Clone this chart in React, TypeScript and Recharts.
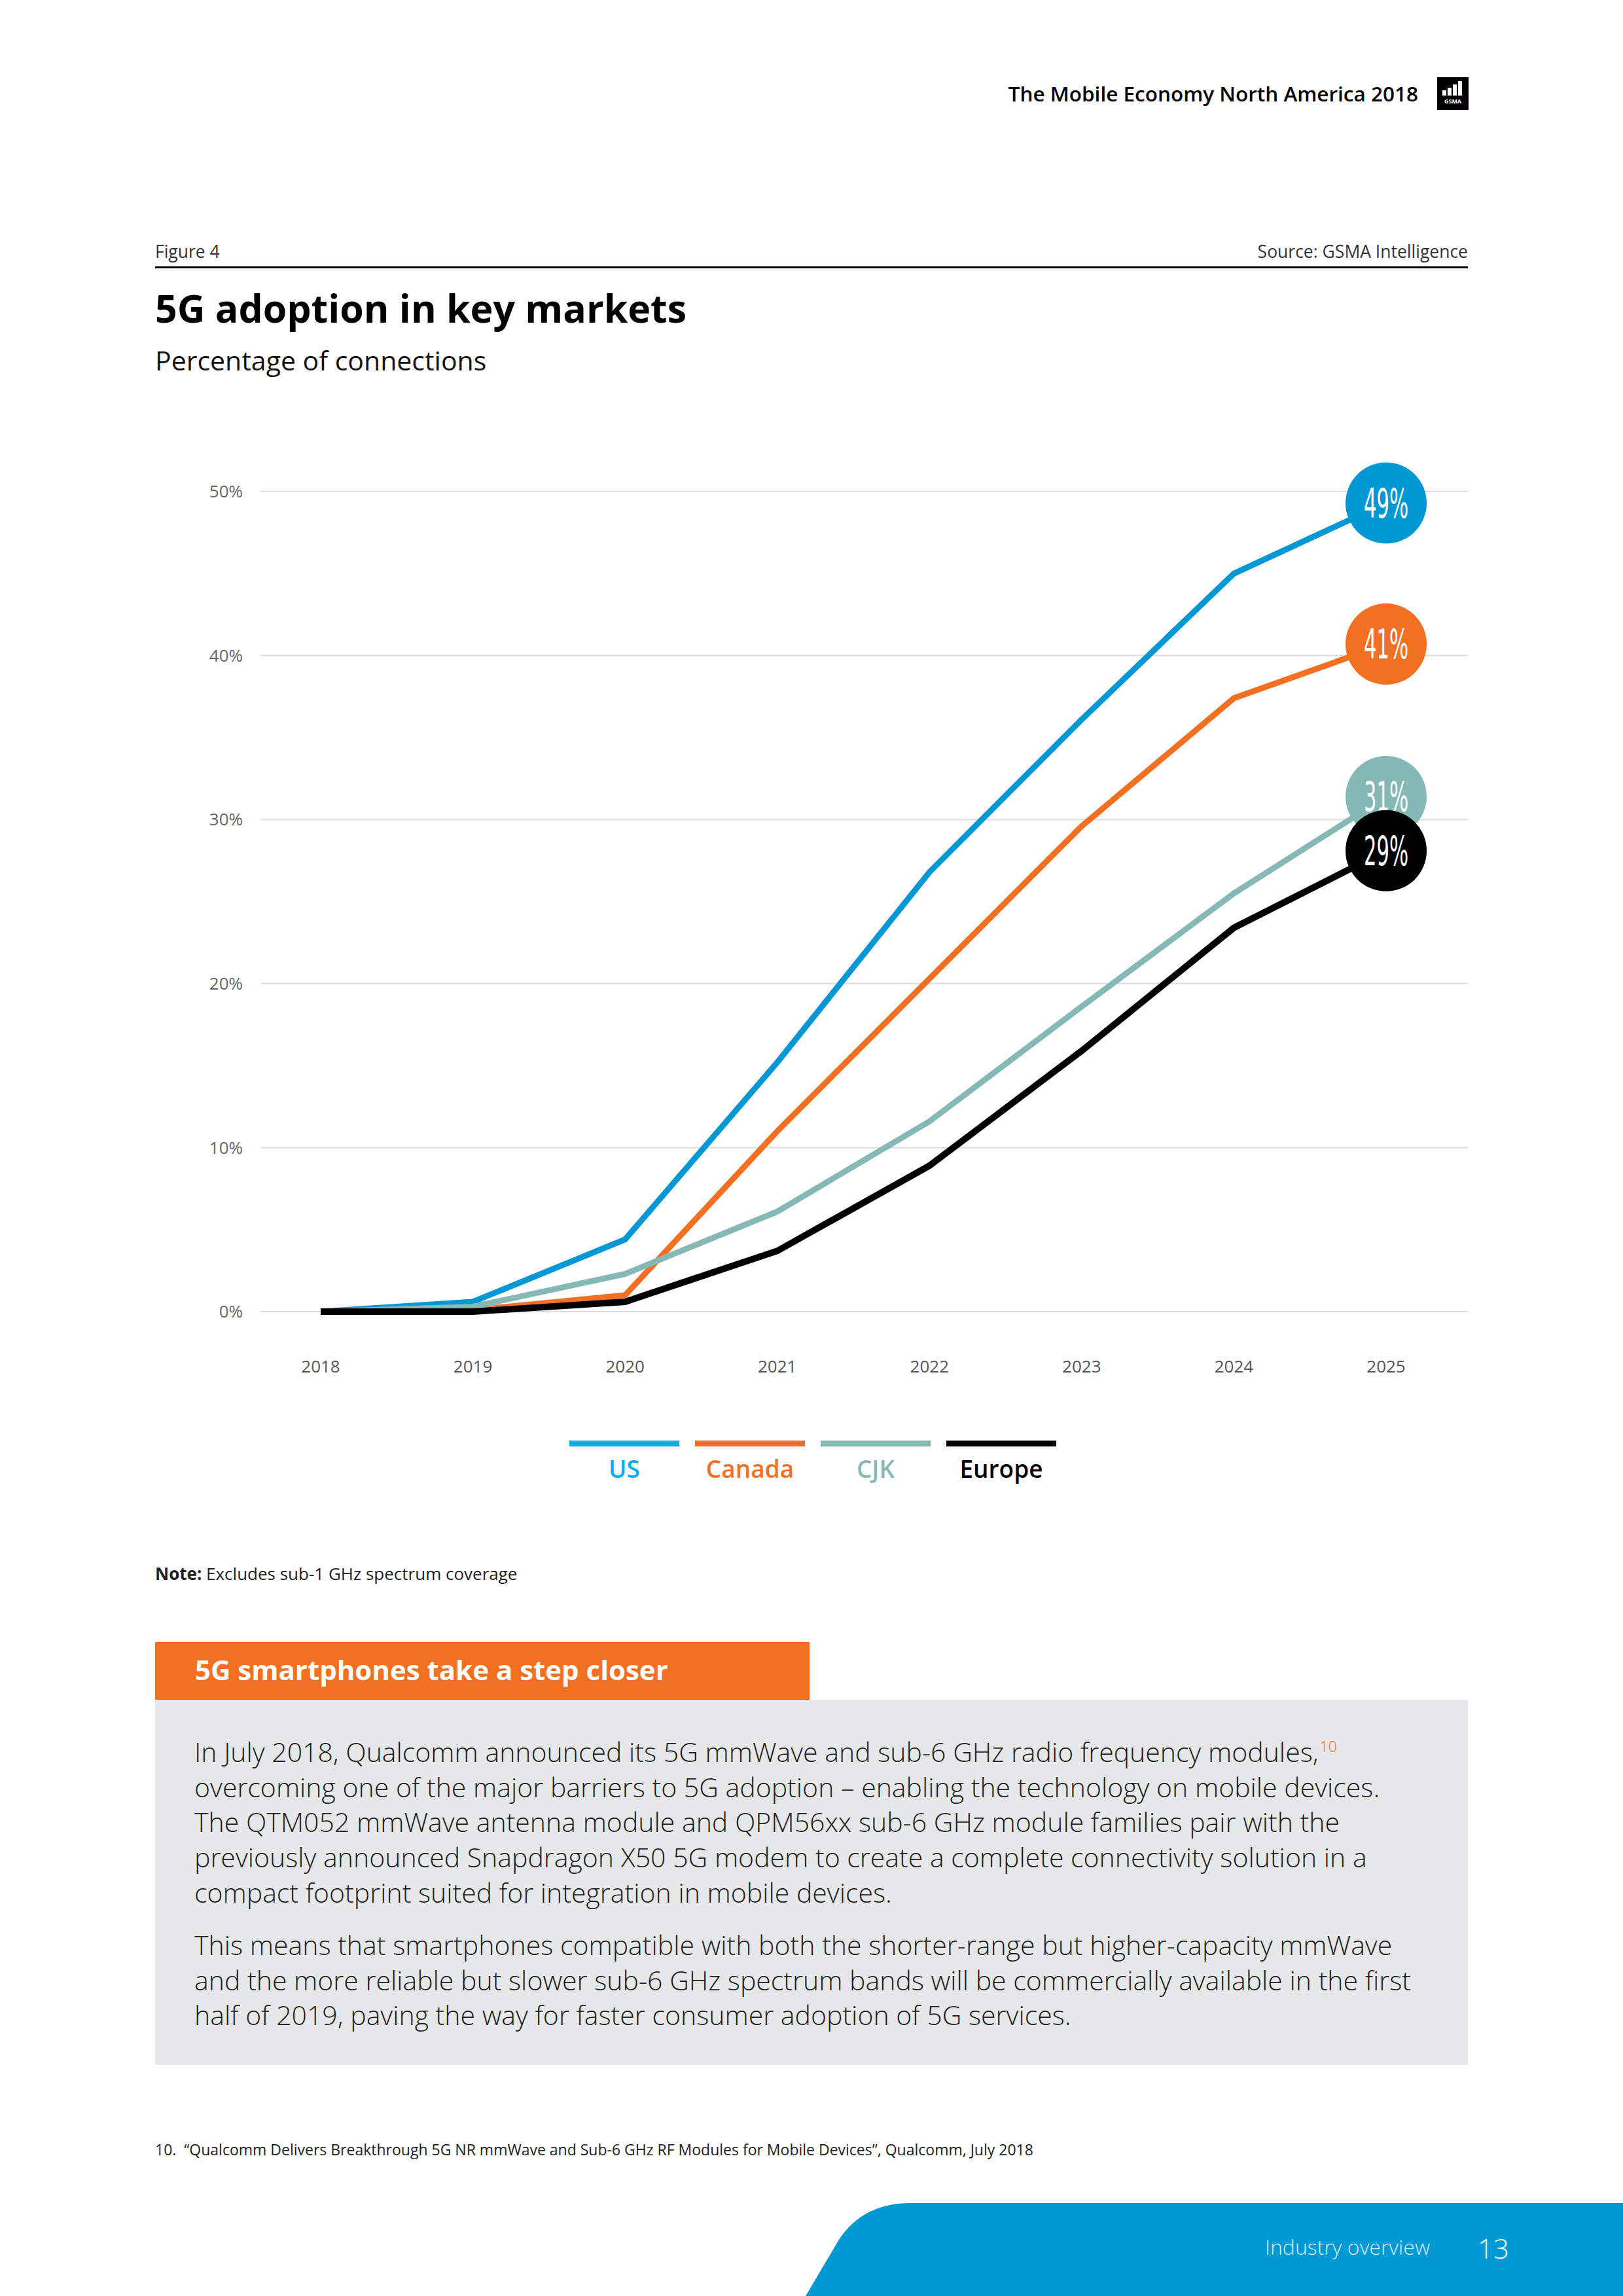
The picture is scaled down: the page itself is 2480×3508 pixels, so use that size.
import React from 'react';
import { LineChart, Line, XAxis, YAxis, CartesianGrid } from 'recharts';

// Years on the x axis
const years = ['2018', '2019', '2020', '2021', '2022', '2023', '2024', '2025'];

// Percentage of connections
const usValues = [0, 0.6, 4.4, 15.2, 26.8, 36.1, 45.0, 49.3];
const canadaValues = [0, 0.1, 1.0, 11.0, 20.3, 29.6, 37.4, 40.7];
const cjkValues = [0, 0.3, 2.3, 6.1, 11.6, 18.6, 25.5, 31.4];
const europeValues = [0, 0, 0.6, 3.7, 8.9, 15.9, 23.4, 28.1];

// Labels in the end bubbles
const endLabels = ['49%', '41%', '31%', '29%'];

const yTicks = [0, 10, 20, 30, 40, 50];

const series = [
  { key: 'us', name: 'US', color: '#0098d4', legendColor: '#00aeef', width: 9, label: endLabels[0] },
  { key: 'canada', name: 'Canada', color: '#f36f21', legendColor: '#f36f21', width: 9, label: endLabels[1] },
  { key: 'cjk', name: 'CJK', color: '#86b9b5', legendColor: '#86b9b5', width: 9, label: endLabels[2] },
  { key: 'europe', name: 'Europe', color: '#000000', legendColor: '#000000', width: 10, label: endLabels[3] },
];

const data = years.map((year, i) => ({
  year,
  us: usValues[i],
  canada: canadaValues[i],
  cjk: cjkValues[i],
  europe: europeValues[i],
}));

const FONT = '"Open Sans", "Noto Sans", sans-serif';

const makeEndDot = (color: string, label: string) => (props: any) => {
  const { cx, cy, index } = props;
  if (index !== years.length - 1) return <g key={`dot-${index}`} />;
  return (
    <g key={`dot-${index}`}>
      <circle cx={cx} cy={cy} r={62} fill={color} />
      <text
        x={cx}
        y={cy}
        dy="0.36em"
        textAnchor="middle"
        fill="#ffffff"
        fontSize={62}
        fontFamily='"DejaVu Sans Condensed", "Liberation Sans Narrow", sans-serif'
        textLength={68}
        lengthAdjust="spacingAndGlyphs"
      >
        {label}
      </text>
    </g>
  );
};

const GsmaLogo = () => (
  <svg width={48} height={50} style={{ position: 'absolute', left: 2196, top: 118 }}>
    <rect x={0} y={0} width={48} height={50} fill="#000" />
    <rect x={8} y={20} width={6} height={8} fill="#fff" />
    <rect x={16} y={16} width={6} height={12} fill="#fff" />
    <rect x={24} y={11} width={6} height={17} fill="#fff" />
    <rect x={32} y={6} width={6} height={22} fill="#fff" />
    <text x={24} y={40} textAnchor="middle" fontSize={9} fill="#fff" fontFamily={FONT} fontWeight={700}>GSMA</text>
  </svg>
);

const para1 = [
  'In July 2018, Qualcomm announced its 5G mmWave and sub-6 GHz radio frequency modules,',
  'overcoming one of the major barriers to 5G adoption – enabling the technology on mobile devices.',
  'The QTM052 mmWave antenna module and QPM56xx sub-6 GHz module families pair with the',
  'previously announced Snapdragon X50 5G modem to create a complete connectivity solution in a',
  'compact footprint suited for integration in mobile devices.',
];
const para2 = [
  'This means that smartphones compatible with both the shorter-range but higher-capacity mmWave',
  'and the more reliable but slower sub-6 GHz spectrum bands will be commercially available in the first',
  'half of 2019, paving the way for faster consumer adoption of 5G services.',
];

const abs = (left: number, top: number, extra: React.CSSProperties = {}): React.CSSProperties => ({
  position: 'absolute',
  left,
  top,
  whiteSpace: 'nowrap',
  fontFamily: FONT,
  ...extra,
});

export default function App() {
  return (
    <div style={{ position: 'absolute', left: 0, top: 0, width: 2480, height: 3508, background: '#fff', overflow: 'hidden' }}>
      {/* page header */}
      <div style={abs(0, 121, { width: 2167, textAlign: 'right', fontSize: 31.5, fontWeight: 600, color: '#000' })}>
        The Mobile Economy North America 2018
      </div>
      <GsmaLogo />

      <div style={abs(237, 366, { fontSize: 26.5, color: '#333' })}>Figure 4</div>
      <div style={abs(0, 366, { width: 2243, textAlign: 'right', fontSize: 26.5, color: '#333' })}>Source: GSMA Intelligence</div>
      <div style={{ position: 'absolute', left: 237, top: 407, width: 2006, height: 3, background: '#000' }} />

      <div style={abs(237, 430, { fontSize: 59, fontWeight: 700, color: '#000' })}>5G adoption in key markets</div>
      <div style={abs(237, 522, { fontSize: 41, color: '#111' })}>Percentage of connections</div>

      {/* chart */}
      <div style={{ position: 'absolute', left: 0, top: 0, width: 2480, height: 2300 }}>
        <LineChart width={2480} height={2300} data={data} margin={{ top: 751, right: 237, bottom: 186, left: 298 }}>
          <CartesianGrid vertical={false} stroke="#dcdcdc" strokeWidth={2} />
          <XAxis
            dataKey="year"
            type="category"
            height={110}
            padding={{ left: 92, right: 125 }}
            axisLine={false}
            tickLine={false}
            tickSize={0}
            tickMargin={75}
            tick={{ fill: '#555', fontSize: 26, fontFamily: FONT }}
          />
          <YAxis
            width={100}
            domain={[0, 50]}
            ticks={yTicks}
            axisLine={false}
            tickLine={false}
            tickSize={0}
            tickMargin={27}
            tickFormatter={(v: number) => `${v}%`}
            tick={{ fill: '#666', fontSize: 26, fontFamily: FONT }}
          />
          {series.map(s => (
            <Line
              key={s.key}
              dataKey={s.key}
              name={s.name}
              type="linear"
              stroke={s.color}
              strokeWidth={s.width}
              dot={makeEndDot(s.color, s.label)}
              activeDot={false}
              isAnimationActive={false}
            />
          ))}
        </LineChart>
      </div>

      {/* legend */}
      <div style={{ position: 'absolute', left: 870, top: 2201, display: 'flex', gap: 24 }}>
        {series.map(s => (
          <div key={s.key} style={{ width: 168, textAlign: 'center' }}>
            <div style={{ height: 9, background: s.legendColor }} />
            <div style={{ marginTop: 8, fontFamily: FONT, fontSize: 37, fontWeight: 600, color: s.legendColor }}>{s.name}</div>
          </div>
        ))}
      </div>

      <div style={abs(237, 2386, { fontSize: 26, color: '#222' })}>
        <b>Note:</b> Excludes sub-1 GHz spectrum coverage
      </div>

      {/* box */}
      <div style={{ position: 'absolute', left: 237, top: 2509, width: 1000, height: 88, background: '#f36f21' }} />
      <div style={abs(298, 2522, { fontSize: 42, fontWeight: 700, color: '#fff' })}>5G smartphones take a step closer</div>
      <div style={{ position: 'absolute', left: 237, top: 2597, width: 2006, height: 558, background: '#e6e7e8' }} />
      {para1.map((line, i) => (
        <div key={`p1-${i}`} style={abs(297, 2648 + i * 53.7, { fontSize: 41, fontWeight: 300, color: '#231f20' })}>
          {line}
          {i === 0 && <sup style={{ fontSize: 23, color: '#f36f21', marginLeft: 2 }}>10</sup>}
        </div>
      ))}
      {para2.map((line, i) => (
        <div key={`p2-${i}`} style={abs(297, 2943 + i * 53.7, { fontSize: 41, fontWeight: 300, color: '#231f20' })}>
          {line}
        </div>
      ))}

      <div style={abs(237, 3268, { fontSize: 23, color: '#222' })}>
        10.&nbsp; “Qualcomm Delivers Breakthrough 5G NR mmWave and Sub-6 GHz RF Modules for Mobile Devices”, Qualcomm, July 2018
      </div>

      {/* footer */}
      <svg width={2480} height={3508} style={{ position: 'absolute', left: 0, top: 0, pointerEvents: 'none' }}>
        <path d="M1231,3508 L1276,3432 Q1312,3366 1392,3366 L2480,3366 L2480,3508 Z" fill="#0099d3" />
      </svg>
      <div style={abs(0, 3411, { width: 2185, textAlign: 'right', fontSize: 32, fontWeight: 300, color: '#d6ecf7' })}>Industry overview</div>
      <div style={abs(2258, 3406, { fontSize: 42, fontWeight: 300, color: '#fff' })}>13</div>
    </div>
  );
}
